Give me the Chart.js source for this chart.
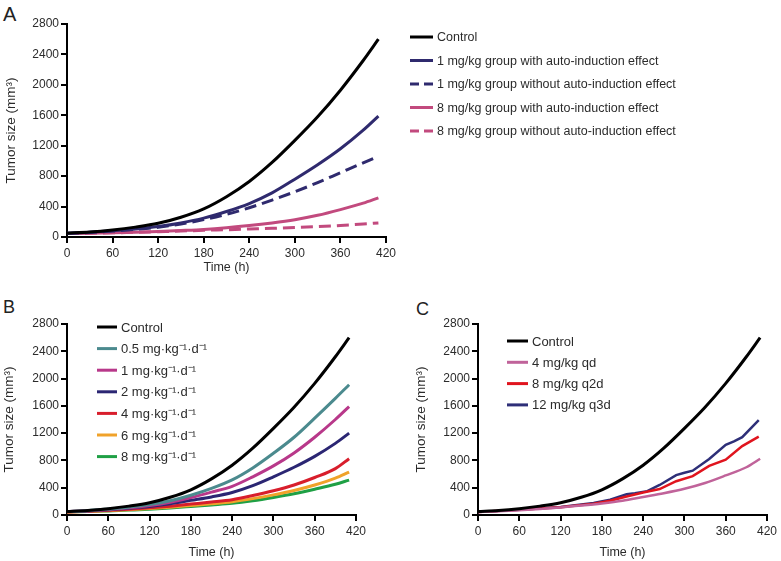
<!DOCTYPE html>
<html>
<head>
<meta charset="utf-8">
<script src="https://cdn.jsdelivr.net/npm/chart.js@4"></script>
<style>
  body { margin: 0; background: #fff; width: 781px; height: 561px; position: relative; overflow: hidden; }
  canvas { position: absolute; }
  .letra { position: absolute; font-family: "Liberation Sans", Arial, sans-serif; color: #222; line-height: 1; }
</style>
</head>
<body>
<div class="letra" style="left:3px; top:4px; font-size:20px;">A</div>
<div class="letra" style="left:3px; top:298px; font-size:18px;">B</div>
<div class="letra" style="left:416px; top:300px; font-size:18px;">C</div>
<canvas id="graficoA" width="781" height="280" style="left:0; top:0;"></canvas>
<canvas id="graficoB" width="390" height="271" style="left:0; top:290px;"></canvas>
<canvas id="graficoC" width="371" height="271" style="left:410px; top:290px;"></canvas>
<script>
// horas comuns das curvas suaves
const horas = [0, 30, 60, 90, 120, 150, 180, 210, 240, 270, 300, 330, 360, 390, 410];
const controle = [50, 65, 92, 130, 180, 260, 370, 530, 730, 980, 1270, 1580, 1930, 2320, 2600];

// Painel A
const a1Com = [50, 62, 81, 105, 138, 185, 248, 335, 440, 580, 760, 950, 1160, 1405, 1590];
const a1Sem = [50, 60, 78, 100, 128, 172, 228, 298, 385, 485, 595, 715, 845, 975, 1060];
const a8Com = [45, 50, 56, 63, 72, 85, 100, 122, 150, 185, 228, 285, 360, 445, 515];
const a8Sem = [45, 50, 55, 62, 70, 78, 88, 96, 105, 114, 125, 137, 152, 170, 185];

// Painel B
const b05 = [50, 64, 88, 115, 152, 210, 290, 390, 515, 690, 905, 1140, 1420, 1710, 1910];
const b1 = [50, 62, 82, 106, 140, 188, 255, 335, 420, 560, 720, 910, 1140, 1400, 1590];
const b2 = [50, 60, 78, 98, 125, 165, 215, 265, 330, 430, 560, 700, 860, 1050, 1200];
const b4 = [45, 55, 68, 85, 105, 130, 160, 190, 225, 285, 355, 440, 550, 680, 825];
const b6 = [45, 53, 63, 78, 95, 115, 140, 165, 195, 240, 295, 360, 440, 540, 630];
const b8 = [45, 52, 60, 72, 85, 103, 125, 148, 172, 210, 258, 312, 378, 450, 512];

// Painel C
const c4qd = [45, 56, 70, 88, 110, 138, 170, 210, 265, 320, 385, 470, 580, 700, 825];
const c8Horas = [0, 60, 120, 168, 192, 216, 240, 264, 288, 312, 336, 360, 384, 408];
const c8q2d = [45, 76, 112, 165, 210, 270, 330, 380, 495, 570, 720, 810, 1010, 1150];
const c12Horas = [0, 60, 120, 168, 192, 216, 228, 246, 264, 288, 300, 312, 336, 360, 372, 384, 408];
const c12q3d = [45, 78, 118, 175, 225, 305, 320, 350, 440, 585, 620, 650, 820, 1030, 1080, 1140, 1390];

const legendaA = ['Control', '1 mg/kg group with auto-induction effect', '1 mg/kg group without auto-induction effect',
  '8 mg/kg group with auto-induction effect', '8 mg/kg group without auto-induction effect'];
const legendaB = ['Control', '0.5 mg·kg⁻¹·d⁻¹', '1 mg·kg⁻¹·d⁻¹', '2 mg·kg⁻¹·d⁻¹', '4 mg·kg⁻¹·d⁻¹', '6 mg·kg⁻¹·d⁻¹', '8 mg·kg⁻¹·d⁻¹'];
const legendaC = ['Control', '4 mg/kg qd', '8 mg/kg q2d', '12 mg/kg q3d'];

const yTicks = [0, 400, 800, 1200, 1600, 2000, 2400, 2800];
const xTicks = [0, 60, 120, 180, 240, 300, 360, 420];

Chart.defaults.font.family = '"Liberation Sans", Arial, sans-serif';
Chart.defaults.color = '#333';

const pontos = (xs, ys) => xs.map((x, i) => ({ x: x, y: ys[i] }));

function linha(label, xs, ys, cor, largura, tracejado, suave) {
  return {
    label: label,
    data: pontos(xs, ys),
    borderColor: cor,
    backgroundColor: cor,
    borderWidth: largura,
    borderDash: tracejado || [],
    pointRadius: 0,
    cubicInterpolationMode: suave ? 'monotone' : 'default',
    tension: 0
  };
}

// legenda desenhada em posição fixa
const legendaFixa = {
  id: 'legendaFixa',
  afterDraw(chart, args, opts) {
    const ctx = chart.ctx;
    ctx.save();
    ctx.font = opts.fonte + 'px "Liberation Sans", Arial, sans-serif';
    ctx.textBaseline = 'middle';
    chart.data.datasets.forEach((ds, i) => {
      const y = opts.y + i * opts.passo;
      ctx.strokeStyle = ds.borderColor;
      ctx.lineWidth = 3;
      ctx.setLineDash(ds.borderDash.length ? [9, 5] : []);
      ctx.beginPath();
      ctx.moveTo(opts.x, y);
      ctx.lineTo(opts.x + opts.comp, y);
      ctx.stroke();
      ctx.setLineDash([]);
      ctx.fillStyle = '#2b2b2b';
      ctx.fillText(ds.label, opts.x + opts.comp + 4, y + 1);
    });
    ctx.restore();
  }
};

function escalas(larguraY, alturaX, padTituloY, padTituloX) {
  const eixo = {
    type: 'linear',
    grid: { drawOnChartArea: false, drawTicks: true, tickLength: 6, color: '#000', lineWidth: 2 },
    border: { color: '#000', width: 2 },
    ticks: { font: { size: 12 }, color: '#2b2b2b', padding: 2, callback: v => String(v) }
  };
  return {
    x: Object.assign({}, eixo, {
      min: 0, max: 420,
      afterBuildTicks: s => { s.ticks = xTicks.map(v => ({ value: v })); },
      afterFit: s => { s.height = alturaX; },
      ticks: Object.assign({}, eixo.ticks, { maxRotation: 0, padding: 3 }),
      title: { display: true, text: 'Time (h)', font: { size: 12.5 }, color: '#2b2b2b', padding: { top: 0, bottom: padTituloX } }
    }),
    y: Object.assign({}, eixo, {
      min: 0, max: 2800,
      afterBuildTicks: s => { s.ticks = yTicks.map(v => ({ value: v })); },
      afterFit: s => { s.width = larguraY; },
      title: { display: true, text: 'Tumor size (mm³)', font: { size: 13.5 }, color: '#2b2b2b', padding: { top: padTituloY, bottom: 0 } }
    })
  };
}

new Chart(document.getElementById('graficoA'), {
  type: 'line',
  data: {
    datasets: [
      linha(legendaA[0], horas, controle, '#000000', 3, null, true),
      linha(legendaA[1], horas, a1Com, '#2f2a6e', 3, null, true),
      linha(legendaA[2], horas, a1Sem, '#2f2a6e', 3, [12, 6], true),
      linha(legendaA[3], horas, a8Com, '#c24a7e', 3, null, true),
      linha(legendaA[4], horas, a8Sem, '#c24a7e', 3, [12, 6], true)
    ]
  },
  options: {
    responsive: false,
    animation: false,
    layout: { padding: { left: 0, top: 24, right: 395, bottom: 0 } },
    plugins: {
      legend: { display: false },
      tooltip: { enabled: false },
      legendaFixa: { x: 410, y: 37, passo: 23.5, comp: 23, fonte: 12.5 }
    },
    scales: escalas(67, 43, 3, 5)
  },
  plugins: [legendaFixa]
});

new Chart(document.getElementById('graficoB'), {
  type: 'line',
  data: {
    datasets: [
      linha(legendaB[0], horas, controle, '#000000', 3, null, true),
      linha(legendaB[1], horas, b05, '#4b8a8e', 3, null, true),
      linha(legendaB[2], horas, b1, '#b8388a', 3, null, true),
      linha(legendaB[3], horas, b2, '#2b2673', 3, null, true),
      linha(legendaB[4], horas, b4, '#d81e2c', 3, null, true),
      linha(legendaB[5], horas, b6, '#f0a22a', 3, null, true),
      linha(legendaB[6], horas, b8, '#1fa045', 3, null, true)
    ]
  },
  options: {
    responsive: false,
    animation: false,
    layout: { padding: { left: 0, top: 34, right: 34, bottom: 0 } },
    plugins: {
      legend: { display: false },
      tooltip: { enabled: false },
      legendaFixa: { x: 97, y: 37, passo: 21.6, comp: 20, fonte: 13 }
    },
    scales: escalas(67, 46, 1, 1)
  },
  plugins: [legendaFixa]
});

new Chart(document.getElementById('graficoC'), {
  type: 'line',
  data: {
    datasets: [
      linha(legendaC[0], horas, controle, '#000000', 3, null, true),
      linha(legendaC[1], horas, c4qd, '#c0639a', 2.5, null, true),
      linha(legendaC[2], c8Horas, c8q2d, '#e0141e', 2.5, null, false),
      linha(legendaC[3], c12Horas, c12q3d, '#2e2f78', 2.5, null, false)
    ]
  },
  options: {
    responsive: false,
    animation: false,
    layout: { padding: { left: 0, top: 34, right: 14, bottom: 0 } },
    plugins: {
      legend: { display: false },
      tooltip: { enabled: false },
      legendaFixa: { x: 97, y: 51, passo: 21.3, comp: 21, fonte: 13 }
    },
    scales: escalas(68, 46, 3, 1)
  },
  plugins: [legendaFixa]
});
</script>
</body>
</html>
